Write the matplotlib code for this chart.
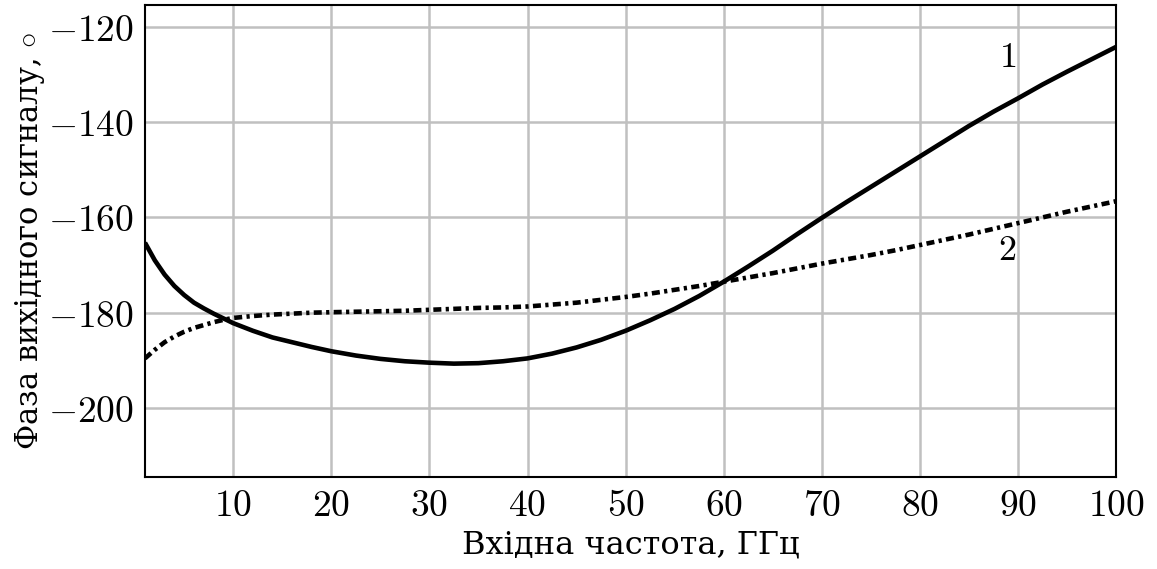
import numpy as np
import matplotlib.pyplot as plt

# frequency, GHz
freq = [1, 2, 3, 4, 5, 6, 7, 8, 9, 10, 12, 14, 16, 18, 20, 22.5, 25, 27.5,
        30, 32.5, 35, 37.5, 40, 42.5, 45, 47.5, 50, 52.5, 55, 57.5, 60,
        62.5, 65, 67.5, 70, 72.5, 75, 77.5, 80, 82.5, 85, 87.5, 90, 92.5,
        95, 97.5, 100]

# curve 1 (solid)
phase1 = [-165.3, -169.0, -172.0, -174.4, -176.3, -177.9, -179.1, -180.2,
          -181.2, -182.2, -183.8, -185.2, -186.2, -187.2, -188.1, -189.0,
          -189.7, -190.2, -190.5, -190.7, -190.6, -190.2, -189.6, -188.6,
          -187.3, -185.7, -183.8, -181.6, -179.2, -176.5, -173.5, -170.3,
          -167.0, -163.5, -160.1, -156.8, -153.6, -150.4, -147.2, -144.0,
          -140.8, -137.8, -135.0, -132.1, -129.4, -126.8, -124.2]

# curve 2 (dash-dot)
phase2 = [-189.6, -187.8, -186.2, -185.0, -184.0, -183.2, -182.6, -182.0,
          -181.5, -181.1, -180.7, -180.4, -180.2, -180.0, -179.9, -179.8,
          -179.7, -179.6, -179.4, -179.2, -179.0, -178.9, -178.7, -178.3,
          -177.9, -177.3, -176.7, -176.0, -175.2, -174.4, -173.5, -172.6,
          -171.7, -170.7, -169.7, -168.8, -167.9, -166.9, -165.8, -164.7,
          -163.6, -162.4, -161.2, -160.0, -158.8, -157.7, -156.6]

xticks = [10, 20, 30, 40, 50, 60, 70, 80, 90, 100]
yticks = [-200, -180, -160, -140, -120]

plt.rcParams['mathtext.fontset'] = 'cm'
plt.rcParams['axes.formatter.use_mathtext'] = True
plt.rcParams['font.family'] = ['DejaVu Serif']

fig = plt.figure(figsize=(11.57, 5.69), dpi=100)
ax = fig.add_axes([0.1253, 0.1617, 0.9646 - 0.1253, 0.9912 - 0.1617])

ax.plot(freq, phase1, color='black', lw=3.3, solid_capstyle='butt',
        solid_joinstyle='round', zorder=3)
ax.plot(freq, phase2, color='black', lw=3.3, dash_capstyle='butt',
        linestyle=(0, (1.75, 0.95, 0.7, 0.95)), zorder=3)

ax.text(88.9, -126.3, '$1$', fontsize=26, ha='center', va='center')
ax.text(88.9, -166.8, '$2$', fontsize=26, ha='center', va='center')

ax.set_xlim(1, 100)
ax.set_ylim(-214.5, -115.4)
ax.set_xticks(xticks)
ax.set_yticks(yticks)
ax.set_xticklabels(['$%d$' % v for v in xticks])
ax.set_yticklabels(['$-%d$' % abs(v) for v in yticks])
ax.tick_params(length=0, labelsize=27, pad=8)

ax.grid(True, color='#c0c0c0', lw=1.8)
ax.set_axisbelow(True)
for s in ax.spines.values():
    s.set_linewidth(1.5)

ax.set_xlabel('Вхідна частота, ГГц', fontsize=23, labelpad=4)
ax.set_ylabel('Фаза вихідного сигналу, $\\circ$', fontsize=22)
ax.yaxis.set_label_coords(-0.101, 0.5)

fig.savefig('out.png', dpi=100)
